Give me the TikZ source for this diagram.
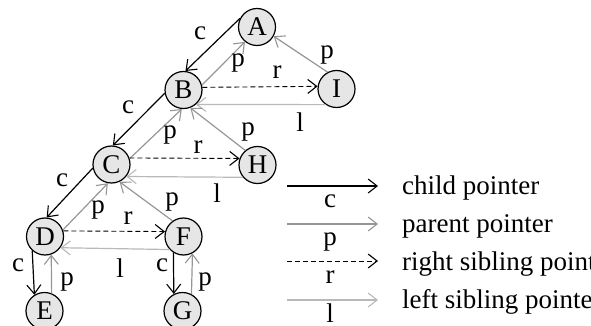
\documentclass[tikz,border=0pt]{standalone}
\usepackage{fontspec}
\setmainfont{Liberation Serif}
\usetikzlibrary{arrows.meta}
\definecolor{pcol}{RGB}{150,150,150}
\definecolor{lcol}{RGB}{185,185,185}
\definecolor{nfill}{RGB}{230,230,230}
\newcommand{\bigfnt}{\fontsize{27}{31}\selectfont}
\tikzset{
  tnode/.style={circle,draw,line width=1.2pt,fill=nfill,minimum size=37pt,inner sep=0pt,font=\bigfnt},
  lab/.style={inner sep=0pt,font=\bigfnt},
  tip/.style={-{Straight Barb[length=9pt,width=14pt,line width=1.1pt]}},
  cedge/.style={tip,black,line width=1.2pt},
  pedge/.style={tip,pcol,line width=1.2pt},
  redge/.style={tip,black,line width=0.9pt,dash pattern=on 5pt off 3pt},
  ledge/.style={tip,lcol,line width=1.2pt},
}
\begin{document}
\begin{tikzpicture}[x=1pt,y=-1pt]
\useasboundingbox (0,0) rectangle (591,326);
\clip (0,0) rectangle (591,326);
% nodes
\node[tnode] (A) at (257,27) {A};
\node[tnode] (B) at (183.5,90) {B};
\node[tnode] (I) at (336.5,89) {I};
\node[tnode] (C) at (111.5,164.5) {C};
\node[tnode] (H) at (257.5,165) {H};
\node[tnode] (D) at (45,236.5) {D};
\node[tnode] (F) at (183.5,236.5) {F};
\node[tnode] (E) at (44.5,311) {E};
\node[tnode] (G) at (182.5,311) {G};
% edges
\draw[cedge] (A.153) -- (B.84);
\draw[pedge] (B.15) -- (A.231);
\draw[redge] (B.8) -- (I.172);
\draw[ledge] (I.235) -- (B.311);
\draw[pedge] (I.118) -- (A.331);
\draw[cedge] (B.190) -- (C.86);
\draw[pedge] (C.18) -- (B.265);
\draw[pedge] (H.130) -- (B.291);
\draw[redge] (C.20) -- (H.160);
\draw[ledge] (H.220) -- (C.321);
\draw[cedge] (C.191) -- (D.85);
\draw[pedge] (D.20) -- (C.259);
\draw[pedge] (F.125) -- (C.295);
\draw[redge] (D.17) -- (F.165);
\draw[ledge] (F.223) -- (D.324);
\draw[cedge] (D.228) -- (E.122);
\draw[pedge] (E.68) -- (D.289);
\draw[cedge] (F.238) -- (G.117);
\draw[pedge] (G.62) -- (F.298);
% edge labels
\node[lab] (l1) at (200,33) {c};
\node[lab] (l2) at (238,63) {p};
\node[lab] (l3) at (277,72) {r};
\node[lab] (l4) at (327,55) {p};
\node[lab] (l5) at (300,122) {l};
\node[lab] (l6) at (128,107) {c};
\node[lab] (l7) at (170,135) {p};
\node[lab] (l8) at (248,132) {p};
\node[lab] (l9) at (198,147) {r};
\node[lab] (l10) at (62,180) {c};
\node[lab] (l11) at (217,193) {l};
\node[lab] (l12) at (172,202) {p};
\node[lab] (l13) at (98,210) {p};
\node[lab] (l14) at (128,218) {r};
\node[lab] (l15) at (18,265) {c};
\node[lab] (l16) at (120,268) {l};
\node[lab] (l17) at (162,265) {c};
\node[lab] (l18) at (67,282) {p};
\node[lab] (l19) at (205,282) {p};
% legend
\coordinate (c1) at (287,186); \coordinate (c2) at (378,186);
\coordinate (p1) at (287,224); \coordinate (p2) at (378,224);
\coordinate (r1) at (287,261); \coordinate (r2) at (378,261);
\coordinate (q1) at (287,300); \coordinate (q2) at (378,300);
\draw[cedge] (c1) -- (c2);
\draw[pedge] (p1) -- (p2);
\draw[redge] (r1) -- (r2);
\draw[ledge] (q1) -- (q2);
\node[lab,anchor=base] (kc) at (330,207) {c};
\node[lab,anchor=base] (kp) at (330,245) {p};
\node[lab,anchor=base] (kr) at (330,283) {r};
\node[lab,anchor=base] (kl) at (330,322) {l};
\node[lab,anchor=base west] (t1) at (402,194) {child pointer};
\node[lab,anchor=base west] (t2) at (402,232) {parent pointer};
\node[lab,anchor=base west] (t3) at (402,270) {right sibling pointer};
\node[lab,anchor=base west] (t4) at (402,308) {left sibling pointer};
\end{tikzpicture}
\end{document}
